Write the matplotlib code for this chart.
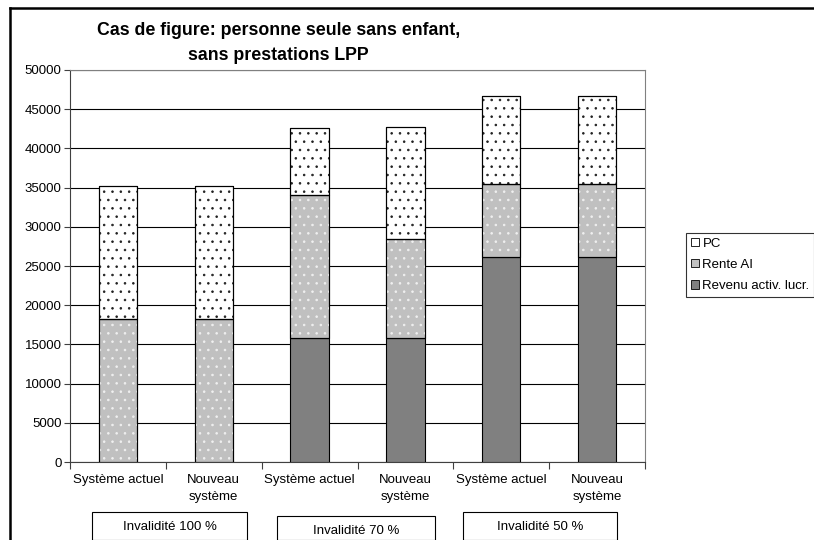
import matplotlib.pyplot as plt
import matplotlib.patches as patches
import numpy as np

plt.rcParams['font.family'] = ['Liberation Sans', 'DejaVu Sans']
plt.rcParams['hatch.linewidth'] = 0.6

# Données (CHF par an)
categories = ['Système actuel', 'Nouveau\nsystème', 'Système actuel',
              'Nouveau\nsystème', 'Système actuel', 'Nouveau\nsystème']
groupes = ['Invalidité 100 %', 'Invalidité 70 %', 'Invalidité 50 %']
revenu = [0, 0, 15800, 15800, 26200, 26200]
rente_ai = [18200, 18200, 18200, 12700, 9200, 9200]
pc = [17000, 17000, 8600, 14200, 11300, 11300]

fig = plt.figure(figsize=(8.14, 5.40), dpi=100)
ax = fig.add_axes([0.086, 0.1444, 0.7064, 0.726])

x = np.arange(len(categories))
w = 0.4
bas2 = np.array(revenu)
bas3 = bas2 + np.array(rente_ai)

# Revenu activ. lucr.
ax.bar(x, revenu, w, color='#808080', edgecolor='black', linewidth=0.8, zorder=3)
# Rente AI (gris, points blancs)
ax.bar(x, rente_ai, w, bottom=bas2, color='#c0c0c0', edgecolor='black', linewidth=0.8, zorder=3)
ax.bar(x, rente_ai, w, bottom=bas2, color='none', edgecolor='#f0f0f0', hatch='..', linewidth=0, zorder=4)
ax.bar(x, rente_ai, w, bottom=bas2, color='none', edgecolor='black', linewidth=0.8, zorder=5)
# PC (blanc, points noirs)
ax.bar(x, pc, w, bottom=bas3, color='white', edgecolor='black', linewidth=0.8, zorder=3)
ax.bar(x, pc, w, bottom=bas3, color='none', edgecolor='#202020', hatch='..', linewidth=0, zorder=4)
ax.bar(x, pc, w, bottom=bas3, color='none', edgecolor='black', linewidth=0.8, zorder=5)

ax.set_xlim(-0.5, len(categories) - 0.5)
ax.set_ylim(0, 50000)
ax.set_yticks(np.arange(0, 50001, 5000))
ax.yaxis.grid(True, color='black', linewidth=0.8, zorder=0)
ax.set_axisbelow(True)
ax.tick_params(axis='y', labelsize=9.5, length=4, direction='out', color='#404040', pad=2)

# ticks x aux limites des catégories
ax.set_xticks(np.arange(-0.5, len(categories), 1.0))
ax.set_xticklabels([])
ax.tick_params(axis='x', length=5, direction='out', color='#404040')
for i, lab in enumerate(categories):
    ax.text(i, -1500, lab, ha='center', va='top', fontsize=9.5, linespacing=1.55)

for s in ['top', 'right']:
    ax.spines[s].set_color('#808080')
for s in ['left', 'bottom']:
    ax.spines[s].set_color('#404040')

# Titre
fig.text(0.342, 1 - 43 / 540, 'Cas de figure: personne seule sans enfant,\nsans prestations LPP',
         ha='center', va='center', fontsize=12.8, fontweight='bold', linespacing=1.6)

# Légende
h_pc = patches.Patch(facecolor='white', edgecolor='black', linewidth=0.6)
h_ai = patches.Patch(facecolor='#c0c0c0', edgecolor='black', linewidth=0.6)
h_rv = patches.Patch(facecolor='#808080', edgecolor='black', linewidth=0.6)
leg = fig.legend([h_pc, h_ai, h_rv], ['PC', 'Rente AI', 'Revenu activ. lucr.'],
                 loc='upper left', bbox_to_anchor=(686 / 814, 1 - 233 / 540),
                 fontsize=9.5, frameon=True, fancybox=False, edgecolor='black',
                 handlelength=0.6, handleheight=0.6, handletextpad=0.3,
                 labelspacing=0.7, borderpad=0.35, borderaxespad=0)
leg.get_frame().set_linewidth(0.8)

# Boîtes des groupes
boites = [(92, 512, 247), (277, 516, 435), (463, 512, 617)]
for (x0, y0, x1), g in zip(boites, groupes):
    fig.patches.append(patches.Rectangle((x0 / 814, 0), (x1 - x0) / 814, 1 - y0 / 540,
                                         transform=fig.transFigure, fill=False,
                                         edgecolor='black', linewidth=0.8))
    fig.text((x0 + x1) / 2 / 814, 1 - (y0 + 15) / 540, g, ha='center', va='center', fontsize=9.5)

# Cadre du graphique
fig.add_artist(plt.Line2D([10 / 814, 10 / 814], [0, 1 - 8 / 540], color='black',
                          linewidth=1.8, transform=fig.transFigure))
fig.add_artist(plt.Line2D([10 / 814, 1], [1 - 8 / 540, 1 - 8 / 540], color='black',
                          linewidth=1.8, transform=fig.transFigure))

fig.savefig('out.png', dpi=100)
